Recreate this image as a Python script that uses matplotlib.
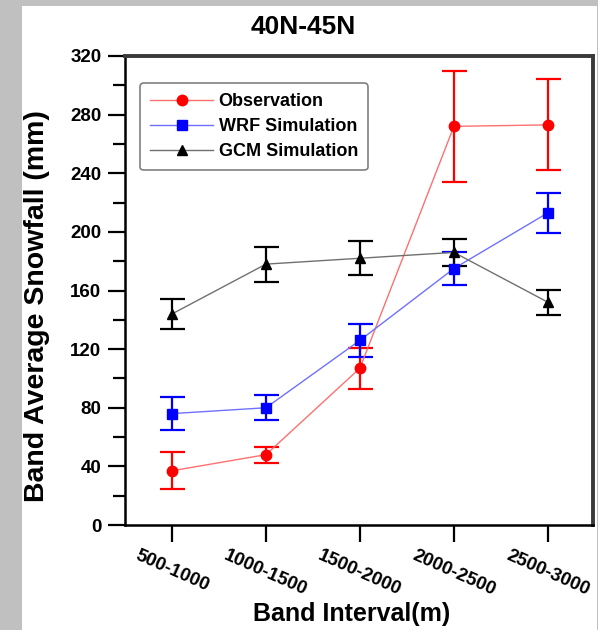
import numpy as np
import matplotlib
matplotlib.use("Agg")
import matplotlib.pyplot as plt
from matplotlib.patches import Rectangle
from matplotlib.ticker import MultipleLocator

plt.rcParams['font.family'] = ['Liberation Sans', 'DejaVu Sans']
plt.rcParams['font.weight'] = 'bold'

bands = ['500-1000', '1000-1500', '1500-2000', '2000-2500', '2500-3000']

obs = [37, 48, 107, 272, 273]
obs_err = [12.5, 5.5, 14, 38, 31]

wrf = [76, 80, 126, 175, 213]
wrf_err = [11.5, 8.6, 11.3, 11.5, 13.5]

gcm = [144, 178, 182, 186, 152]
gcm_err = [10.5, 12, 11.5, 9, 8.5]

W, H = 598, 630
fig = plt.figure(figsize=(W / 100, H / 100), dpi=100, facecolor='#c0c0c0')
# white panel inside the grey frame
fig.patches.append(Rectangle((22 / W, 0), (597 - 22) / W, 1 - 6 / H,
                             transform=fig.transFigure, facecolor='white',
                             edgecolor='none', zorder=-10))

ax = fig.add_axes([125 / W, 1 - 525 / H, (593 - 125) / W, (525 - 56) / H])
x = np.arange(1, len(bands) + 1)

series = [
    (obs, obs_err, 'red', '#ff7070', 'o', 'Observation'),
    (wrf, wrf_err, 'blue', '#7070ff', 's', 'WRF Simulation'),
    (gcm, gcm_err, 'black', '#707070', '^', 'GCM Simulation'),
]
for vals, err, c, lc, m, lab in series:
    ax.errorbar(x, vals, yerr=err, fmt='none', ecolor=c, elinewidth=1.6,
                capsize=9, capthick=1.6, zorder=3)
    ax.plot(x, vals, color=lc, lw=1, marker=m, ms=7.5, mfc=c, mec=c,
            label=lab, zorder=4)

ax.set_xlim(0.5, 5.48)
ax.set_ylim(0, 320)
ax.yaxis.set_major_locator(MultipleLocator(40))
ax.yaxis.set_minor_locator(MultipleLocator(20))
ax.set_xticks(x)
ax.set_xticklabels(bands, rotation=-24, ha='center', fontsize=13.5,
                   fontweight='bold')
ax.tick_params(axis='both', which='major', direction='out', length=12,
               width=1.6, labelsize=13.5, pad=4)
ax.tick_params(axis='y', which='minor', direction='out', length=9,
               width=1.6)
ax.tick_params(axis='y', pad=5)
for lbl in ax.get_yticklabels():
    lbl.set_fontweight('bold')

for s in ['left', 'bottom']:
    ax.spines[s].set_linewidth(1.8)
for s in ['top', 'right']:
    ax.spines[s].set_linewidth(2.8)
    ax.spines[s].set_color('#3a3a3a')

leg = ax.legend(loc='upper left', bbox_to_anchor=(140 / W, 1 - 83 / H),
                bbox_transform=fig.transFigure, borderaxespad=0,
                prop={'size': 13, 'weight': 'bold'},
                handlelength=3.5, handletextpad=0.3, labelspacing=0.45,
                borderpad=0.55, fancybox=True, framealpha=1)
leg.get_frame().set_edgecolor('#808080')
leg.get_frame().set_linewidth(1.2)

fig.text(303.5 / W, 1 - 27.5 / H, '40N-45N', ha='center', va='center',
         fontsize=19, fontweight='bold')
fig.text(351.5 / W, 1 - 614 / H, 'Band Interval(m)', ha='center',
         va='center', fontsize=18, fontweight='bold')
fig.text(37 / W, 1 - 306 / H, 'Band Average Snowfall (mm)', ha='center',
         va='center', rotation=90, fontsize=20.5, fontweight='bold')

fig.savefig('out.png', dpi=100, facecolor=fig.get_facecolor())
